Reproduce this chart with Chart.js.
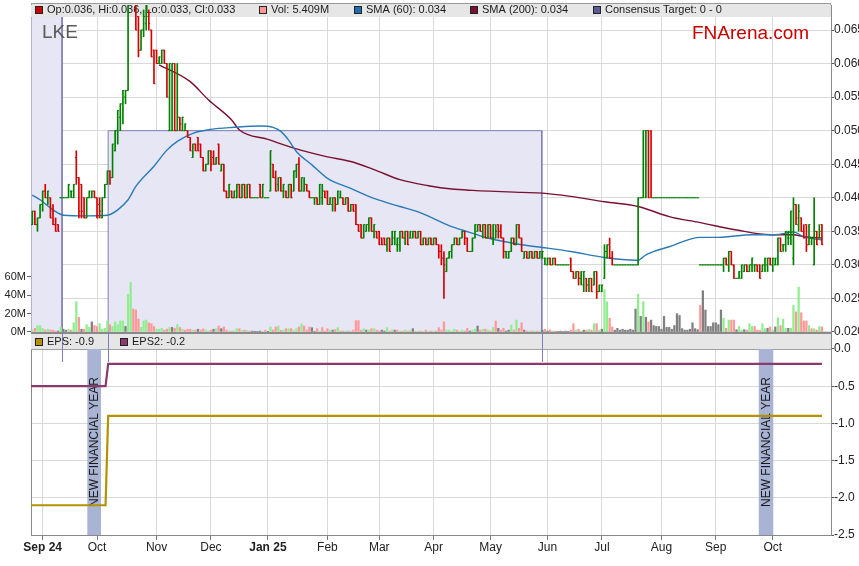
<!DOCTYPE html>
<html lang="en">
<head>
<meta charset="UTF-8">
<title>LKE price chart</title>
<script src="https://cdn.jsdelivr.net/npm/chart.js"></script>
<style>
  html, body { margin: 0; padding: 0; background: #fff; }
  #wrap { width: 859px; height: 566px; }
</style>
</head>
<body>
<div id="wrap"><canvas id="chart" width="859" height="566"></canvas></div>
<script>
// ---- data (trading-day index on x, prices in thousandths of a dollar) ----
const dayCount = 309;
const monthStarts = [4, 25, 48, 69, 91, 114, 134, 155, 177, 199, 220, 243, 264, 286];
const monthLabels = ['Sep 24', 'Oct', 'Nov', 'Dec', 'Jan 25', 'Feb', 'Mar', 'Apr', 'May', 'Jun', 'Jul', 'Aug', 'Sep', 'Oct'];

const opens = [
  36,38,36,37,39,41,40,40,38,36, 36,40,40,40,40,41,40,46,43,42, 40,37,40,40,41,40,39,37,40,42,
  44,43,47,50,52,54,55,56,70,73, 70,67,62,65,66,67,65,62,62,60, 60,62,60,50,50,60,50,52,50,50,
  50,49,46,48,49,48,46,44,45,47, 46,45,48,44,45,41,40,41,40,40, 42,40,42,40,42,40,40,40,42,40,
  40,40,41,45,43,42,43,41,41,40, 42,41,44,45,41,41,42,41,40,40, 40,39,40,41,41,39,39,40,39,40,
  40,39,40,38,39,39,36,36,34,35, 36,37,35,35,35,34,34,33,34,33, 34,33,33,35,34,35,34,34,35,34,
  35,33,34,33,34,33,34,33,32,31, 29,31,32,33,34,33,34,35,34,32, 32,34,35,36,35,36,34,36,34,34,
  36,35,34,32,31,32,34,33,36,34, 31,32,31,32,31,32,31,31,31,30, 31,30,31,30,30,30,30,30,31,29,
  28,29,28,27,28,27,28,27,29,26, 26,28,32,33,31,30,30,30,30,30, 30,30,30,30,30,40,40,40,50,50,
  40,40,40,40,40,40,40,40,40,40, 40,40,40,40,40,40,40,40,30,30, 30,30,30,30,30,30,30,30,31,30,
  32,30,28,28,28,29,30,29,30,30, 30,30,29,30,30,31,30,30,30,34, 33,33,34,34,31,39,36,37,35,36,
  33,34,30,35,34,36
];
const highs = [
  38,38,37,39,41,42,41,40,39,37, 36,40,40,40,42,41,42,47,43,42, 40,40,41,41,41,40,40,40,42,44,
  44,48,50,53,54,56,56,72,74,74, 70,67,65,68,70,68,65,62,62,61, 62,62,60,60,60,60,60,52,52,51,
  50,49,48,48,49,48,46,45,47,47, 47,46,48,45,45,41,42,41,41,42, 42,42,42,42,42,40,40,40,42,42,
  40,40,47,45,44,43,43,42,41,42, 42,44,45,46,43,43,42,41,40,40, 40,42,42,41,41,40,40,40,41,41,
  40,40,40,39,39,39,36,36,36,36, 37,37,36,35,35,34,34,34,34,35, 35,34,35,35,35,35,35,35,35,35,
  35,34,34,34,34,34,34,33,33,32, 31,32,33,34,34,34,35,35,34,32, 34,36,36,36,36,36,36,36,36,36,
  36,36,34,32,32,34,34,36,36,34, 32,32,32,32,32,32,32,32,31,31, 31,31,31,30,30,30,30,30,31,29,
  29,29,29,29,28,28,28,29,29,27, 27,33,33,34,32,30,30,30,30,30, 30,30,30,30,40,40,50,50,50,50,
  40,40,40,40,40,40,40,40,40,40, 40,40,40,40,40,40,40,40,30,30, 30,30,30,30,30,30,30,31,31,32,
  32,30,28,29,30,30,30,30,31,30, 30,30,30,31,31,31,31,31,34,34, 33,35,35,38,40,39,39,37,36,36,
  36,34,40,35,36,36
];
const lows = [
  36,36,35,37,38,40,39,37,36,35, 35,40,40,40,40,40,40,42,37,37, 37,37,40,40,40,37,37,37,40,42,
  42,43,47,48,50,51,54,56,69,70, 65,61,62,64,65,65,61,57,60,60, 60,60,55,50,50,50,50,50,50,50,
  49,47,46,47,47,46,44,44,45,44, 45,45,45,44,41,40,40,40,40,40, 40,40,40,40,40,40,40,40,40,40,
  40,40,41,43,41,41,41,40,40,40, 40,41,43,41,41,41,41,40,40,39, 39,39,39,40,39,39,38,38,39,40,
  39,39,38,38,38,36,35,34,34,35, 35,35,34,34,33,33,33,32,32,33, 33,32,32,34,33,33,34,34,34,34,
  33,33,33,33,33,33,33,31,30,25, 29,31,31,33,33,33,34,33,32,32, 32,34,35,35,34,34,34,34,33,34,
  34,34,31,31,31,32,33,33,34,32, 31,31,31,31,31,31,31,31,30,30, 30,30,30,30,30,30,30,30,29,28,
  28,27,27,26,26,26,26,27,25,26, 26,28,31,31,30,30,30,30,30,30, 30,30,30,30,30,40,40,40,40,40,
  40,40,40,40,40,40,40,40,40,40, 40,40,40,40,40,40,40,40,30,30, 30,30,30,30,30,30,30,29,30,29,
  30,28,28,28,28,29,29,29,29,29, 29,28,29,29,29,30,29,30,30,32, 32,32,33,33,30,36,35,35,34,32,
  33,33,30,33,34,33
];
const closes = [
  38,36,37,39,41,40,41,37,36,35, 35,40,40,40,42,41,42,43,38,38, 37,40,41,41,40,37,38,40,42,44,
  43,48,50,53,54,56,56,70,73,70, 65,62,65,67,69,66,61,57,60,61, 62,60,55,60,60,50,52,51,52,51,
  49,47,48,47,47,46,44,45,47,45, 45,46,45,45,41,40,42,40,41,42, 40,42,40,42,40,40,40,40,40,42,
  40,40,47,43,41,43,41,42,40,42, 40,44,45,41,43,42,41,40,40,40, 39,42,41,40,39,40,40,39,41,40,
  39,40,38,39,38,36,35,34,36,36, 37,35,36,34,33,33,33,34,32,35, 35,34,35,34,35,33,35,35,34,35,
  33,34,33,34,33,34,33,32,31,30, 31,32,33,34,33,34,35,34,32,32, 34,36,36,35,36,34,36,34,36,35,
  35,34,32,32,32,34,33,36,34,32, 32,31,32,31,32,31,32,32,31,31, 30,31,30,30,30,30,30,30,29,28,
  29,28,29,29,27,28,26,29,26,27, 27,32,33,31,30,30,30,30,30,30, 30,30,30,30,40,40,50,50,40,40,
  40,40,40,40,40,40,40,40,40,40, 40,40,40,40,40,40,40,40,30,30, 30,30,30,30,30,30,30,31,30,32,
  30,28,28,29,30,30,29,30,31,30, 29,28,30,31,31,30,31,31,34,32, 33,35,35,38,39,37,38,35,34,33,
  36,34,35,33,35,33
];
// volume in millions of shares
const volumes = [
  2,4,7,7,4,2,3,2,2,1, 1,5,3,2,3,2,10,33,16,3, 3,8,5,11,7,6,9,3,4,12,
  8,6,11,8,12,12,6,41,54,25, 24,14,5,12,13,10,9,6,3,3, 4,2,3,5,5,4,8,5,3,2,
  3,3,2,2,3,2,3.3,2,1,2, 3,3.6,6.5,3.6,5.5,2,1,1,1.5,3.6, 3.6,1.5,2,1.5,1,1,0.3,0.3,1,0.5,
  2,0.3,5.5,2,5.5,6.5,1.8,2,3.6,3.6, 3.6,1.5,3.6,5.5,8.7,6.5,2,5.5,4.7,0.5, 3.6,1,4.7,1,3.6,2,2,2.5,4.7,1,
  1,1,1,1,2,12.4,12.4,2,3.6,2, 2,3.6,3.6,2,1,2,1,4.7,1,2, 2,2,1,1,2,1,2,3.6,0.5,1,
  1,0.5,2,1,1,1,1,4.7,2,11, 2,2,1,3,2,1,2,1,4,1, 2,3,6.5,2,3,3,2,1,5,12,
  4,2,4,1,2,7.6,2,13,4,10, 2,1,1,1,1,1,1,2,3,1, 2,1,1,0.5,1,0.5,1,0.5,2,9,
  2,3,1,2,2,3,2,9,9,2, 3,46,33,15,5.5,2,4,2,3,2, 2,3,2,25,41,17,33,16,11,13,
  7,6,6,3,17,5,5,3,7,20, 18,3.6,2,2,3,10,3.6,2.5,29,45, 24,6,6,10,10,8,24,15,4,13,
  13,13,2.5,6,2,2.5,2,9,6,6, 2,2,9,3.6,4,5.5,2,5.5,15.6,7, 14,4,4,4,29,22,49,21,12,12,
  7,3.6,3.6,2,6,5.4
];

const sma60Days = [0,3,8,12,21,29,33,37,40,47,52,56,62,69,78,88,93,96,99,102,108,114,123,132,142,149,155,162,166,176,189,197,208,221,233,234,237,246,258,265,278,287,294,298,305];
const sma60 = [0.0404,0.0397,0.0382,0.0374,0.0373,0.0374,0.0382,0.0397,0.0417,0.0447,0.0471,0.0484,0.0496,0.0502,0.0505,0.0507,0.0505,0.0499,0.0486,0.0469,0.0449,0.0429,0.0414,0.0399,0.0387,0.0379,0.0369,0.0357,0.0352,0.0340,0.0330,0.0326,0.0320,0.0311,0.0307,0.0307,0.0315,0.0327,0.0341,0.0341,0.0345,0.0345,0.0349,0.0342,0.0337];
const sma200Days = [49,61,68,77,80,91,101,114,123,132,142,153,162,170,189,197,208,221,234,246,258,272,285,294,298,305];
const sma200 = [0.0598,0.0573,0.0546,0.0516,0.0501,0.0487,0.0474,0.0461,0.0454,0.0442,0.0427,0.0418,0.0413,0.0411,0.0408,0.0407,0.0402,0.0394,0.0387,0.0372,0.0363,0.0352,0.0345,0.0345,0.0342,0.0340];

// consensus target periods (day boundaries) and level
const targetStart = [-0.5, 29.3];
const targetEnd = [11.5, 196.8];
const targetValue = [0.080, 0.050];

// EPS series
const epsDays = [-0.5, 28.3, 29.3, 305];
const eps = [-2.1, -2.1, -0.9, -0.9];
const eps2 = [-0.5, -0.5, -0.2, -0.2];

// new financial year markers
const fyStart = [21.2, 280.5];
const fyEnd = [26.6, 286.3];

const priceTicks = [0.020, 0.025, 0.030, 0.035, 0.040, 0.045, 0.050, 0.055, 0.060, 0.065];
const epsTicks = [0, -0.5, -1.0, -1.5, -2.0, -2.5];
const volTicks = [0, 20, 40, 60];

// ---- styling ----
const UP = '#008000', DOWN = '#d40000';
const narrow = "'Liberation Sans Narrow', 'Arial Narrow', Arial, sans-serif";
const PRICE_BASE = 0.0197;
const FRAME_TOP = 3;

const candleColor = closes.map((c, i) => c < opens[i] ? DOWN : UP);
const volColor = closes.map((c, i) => {
  const prev = i > 0 ? closes[i - 1] : opens[0];
  return c > prev ? '#90ee90' : c < prev ? '#ff9999' : '#808080';
});

function noPad(s) {
  s.paddingTop = 0; s.paddingBottom = 0; s.paddingLeft = 0; s.paddingRight = 0;
}

function legendItem(ctx, x, y, color, text) {
  ctx.fillStyle = color;
  ctx.fillRect(x, y - 4, 8, 8);
  ctx.strokeStyle = '#222';
  ctx.lineWidth = 1;
  ctx.strokeRect(x + 0.5, y - 3.5, 7, 7);
  ctx.fillStyle = '#1a1a1a';
  ctx.fillText(text, x + 12, y);
}

function drawPanels(chart) {
  const { ctx, chartArea: a, scales } = chart;
  const w = a.right - a.left;
  const sepTop = scales.yPrice.bottom;
  const sepBottom = scales.yEps.getPixelForValue(0);
  ctx.save();
  ctx.fillStyle = '#e6e6e6';
  ctx.fillRect(a.left, FRAME_TOP, w, 14);
  ctx.fillRect(a.left, sepTop, w, sepBottom - sepTop);
  ctx.strokeStyle = '#8a8a8a';
  ctx.lineWidth = 2;
  ctx.beginPath(); ctx.moveTo(a.left, sepTop - 1); ctx.lineTo(a.right, sepTop - 1); ctx.stroke();
  ctx.strokeStyle = '#a0a0a0';
  ctx.lineWidth = 1;
  ctx.beginPath(); ctx.moveTo(a.left, sepBottom + 0.5); ctx.lineTo(a.right, sepBottom + 0.5); ctx.stroke();

  // consensus edges run on through the separator
  ctx.strokeStyle = '#7f7fb5';
  [targetEnd[0], targetStart[1], targetEnd[1]].forEach(d => {
    const x = Math.round(scales.x.getPixelForValue(d)) + 0.5;
    ctx.beginPath(); ctx.moveTo(x, sepTop - 2); ctx.lineTo(x, sepTop + 28); ctx.stroke();
  });

  ctx.font = '11px Arial';
  ctx.textBaseline = 'middle';
  ctx.textAlign = 'left';
  legendItem(ctx, 35, 10, '#cc0000', 'Op:0.036, Hi:0.036, Lo:0.033, Cl:0.033');
  legendItem(ctx, 259, 10, '#ff9999', 'Vol: 5.409M');
  legendItem(ctx, 354, 10, '#1f6fb0', 'SMA (60): 0.034');
  legendItem(ctx, 470, 10, '#7a1030', 'SMA (200): 0.034');
  legendItem(ctx, 593, 10, '#5c5c94', 'Consensus Target: 0 - 0');
  legendItem(ctx, 35, 342, '#b39200', 'EPS: -0.9');
  legendItem(ctx, 120, 342, '#8b3a6e', 'EPS2: -0.2');

  ctx.font = '19px Arial';
  ctx.fillStyle = '#5a5a5a';
  ctx.fillText('LKE', 42, 33);
  ctx.fillStyle = '#cc0000';
  ctx.fillText('FNArena.com', 692, 34);
  ctx.restore();
}

function drawFyText(chart) {
  const { ctx, scales } = chart;
  const yMid = (scales.yEps.getPixelForValue(0) + scales.yEps.getPixelForValue(-2.5)) / 2;
  ctx.save();
  ctx.font = '12px Arial';
  ctx.fillStyle = '#1a1a1a';
  ctx.textAlign = 'center';
  ctx.textBaseline = 'middle';
  fyStart.forEach((s, k) => {
    const x = scales.x.getPixelForValue((s + fyEnd[k]) / 2);
    ctx.save();
    ctx.translate(x + 1, yMid);
    ctx.rotate(-Math.PI / 2);
    ctx.fillText('NEW FINANCIAL YEAR', 0, 0);
    ctx.restore();
  });
  ctx.restore();
}

const decor = {
  id: 'decor',
  beforeDatasetDraw(chart, args) {
    const label = chart.data.datasets[args.index].label;
    if (label === 'Vol') drawPanels(chart);
    if (label === 'SMA (200)') drawFyText(chart);
  },
  afterDraw(chart) {
    const { ctx, chartArea: a } = chart;
    ctx.save();
    ctx.strokeStyle = '#999';
    ctx.lineWidth = 1;
    ctx.beginPath();
    ctx.moveTo(a.left + 0.5, a.top);
    ctx.lineTo(a.left + 0.5, FRAME_TOP + 0.5);
    ctx.lineTo(a.right - 0.5, FRAME_TOP + 0.5);
    ctx.lineTo(a.right - 0.5, a.top);
    ctx.stroke();
    ctx.restore();
  }
};

// ---- datasets ----
const boxSets = targetStart.map((s, k) => ({
  type: 'line', label: 'Consensus', yAxisID: 'yPrice', order: 20,
  data: [{ x: s, y: PRICE_BASE }, { x: s, y: targetValue[k] }, { x: targetEnd[k], y: targetValue[k] }, { x: targetEnd[k], y: PRICE_BASE }],
  borderColor: '#7f7fb5', borderWidth: 1, backgroundColor: '#e6e6f5',
  fill: { value: PRICE_BASE }, pointRadius: 0, tension: 0
}));

const fySets = fyStart.map((s, k) => ({
  type: 'line', label: 'FY', yAxisID: 'yEps', order: 12,
  data: [{ x: s, y: -2.5 }, { x: s, y: 0 }, { x: fyEnd[k], y: 0 }, { x: fyEnd[k], y: -2.5 }],
  borderColor: 'rgba(0,0,0,0)', borderWidth: 0, backgroundColor: '#a9b3d3',
  fill: { value: -2.5 }, pointRadius: 0, tension: 0
}));

const datasets = [
  ...boxSets,
  {
    type: 'bar', label: 'Vol', yAxisID: 'yVol', order: 15, grouped: false,
    data: volumes.map((v, i) => ({ x: i, y: v })),
    backgroundColor: volColor, barThickness: 1.6
  },
  ...fySets,
  {
    type: 'line', label: 'SMA (200)', yAxisID: 'yPrice', order: 8,
    data: sma200Days.map((d, k) => ({ x: d, y: sma200[k] })),
    borderColor: '#7a1030', borderWidth: 1.4, pointRadius: 0, cubicInterpolationMode: 'monotone'
  },
  {
    type: 'line', label: 'SMA (60)', yAxisID: 'yPrice', order: 7,
    data: sma60Days.map((d, k) => ({ x: d, y: sma60[k] })),
    borderColor: '#2a7ab8', borderWidth: 1.4, pointRadius: 0, cubicInterpolationMode: 'monotone'
  },
  {
    type: 'line', label: 'EPS', yAxisID: 'yEps', order: 6,
    data: epsDays.map((d, k) => ({ x: d, y: eps[k] })),
    borderColor: '#b39200', borderWidth: 2.2, pointRadius: 0, tension: 0
  },
  {
    type: 'line', label: 'EPS2', yAxisID: 'yEps', order: 5,
    data: epsDays.map((d, k) => ({ x: d, y: eps2[k] })),
    borderColor: '#8b3a6e', borderWidth: 2.2, pointRadius: 0, tension: 0
  },
  {
    type: 'bar', label: 'Range', yAxisID: 'yPrice', order: 3, grouped: false,
    data: highs.map((h, i) => ({ x: i, y: [lows[i] / 1000, h / 1000] })),
    backgroundColor: candleColor, barThickness: 1
  },
  {
    type: 'line', label: 'Open', yAxisID: 'yPrice', order: 2, showLine: false,
    data: opens.map((o, i) => ({ x: i - 0.25, y: o / 1000 })),
    pointStyle: 'line', pointRadius: 0.75, pointBorderWidth: 1, pointBorderColor: candleColor
  },
  {
    type: 'line', label: 'Close', yAxisID: 'yPrice', order: 1, showLine: false,
    data: closes.map((c, i) => ({ x: i + 0.25, y: c / 1000 })),
    pointStyle: 'line', pointRadius: 0.75, pointBorderWidth: 1, pointBorderColor: candleColor
  }
];

new Chart(document.getElementById('chart'), {
  type: 'bar',
  data: { datasets },
  options: {
    responsive: false,
    animation: false,
    devicePixelRatio: 1,
    events: [],
    layout: { padding: { top: 1, left: 0, right: 0, bottom: 0 } },
    plugins: { legend: { display: false }, tooltip: { enabled: false } },
    scales: {
      x: {
        type: 'linear', min: -0.5, max: dayCount - 0.5, offset: false,
        afterBuildTicks: s => { s.ticks = monthStarts.map(v => ({ value: v })); },
        afterFit: s => { s.height = 31; noPad(s); },
        grid: { offset: false, color: '#d9d9d9', tickColor: '#777', tickLength: 5 },
        border: { color: '#888' },
        ticks: {
          autoSkip: false, maxRotation: 0, padding: 0, color: '#222',
          callback: (v, i) => monthLabels[i],
          font: c => ({ family: narrow, size: 12, weight: /\d/.test(monthLabels[c.index] || '') ? 'bold' : 'normal' })
        }
      },
      yVol: {
        position: 'left', min: -221.5, max: 356.7,
        afterBuildTicks: s => { s.ticks = volTicks.map(v => ({ value: v })); },
        afterFit: s => { s.width = 31; noPad(s); },
        grid: { drawOnChartArea: false, tickColor: '#666', tickLength: 4 },
        border: { color: '#888' },
        ticks: { padding: 1, color: '#222', font: { family: 'Arial', size: 11 }, callback: v => v + 'M' }
      },
      yPrice: {
        position: 'right', stack: 'right', stackWeight: 329, min: PRICE_BASE, max: 0.068726,
        afterBuildTicks: s => { s.ticks = priceTicks.map(v => ({ value: v })); },
        afterFit: s => { s.width = 28; noPad(s); },
        grid: { color: '#d9d9d9', tickColor: '#555', tickLength: 3 },
        border: { color: '#888' },
        ticks: { padding: 0, color: '#222', font: { family: 'Arial', size: 12 }, callback: v => v.toFixed(3) }
      },
      yEps: {
        position: 'right', stack: 'right', stackWeight: 201, min: -2.5, max: 0.2016,
        afterBuildTicks: s => { s.ticks = epsTicks.map(v => ({ value: v })); },
        afterFit: s => { s.width = 28; noPad(s); },
        grid: { color: '#d9d9d9', tickColor: '#555', tickLength: 3 },
        border: { color: '#888' },
        ticks: { padding: 0, color: '#222', font: { family: 'Arial', size: 12 }, callback: v => v.toFixed(1) }
      }
    }
  },
  plugins: [decor]
});
</script>
</body>
</html>
